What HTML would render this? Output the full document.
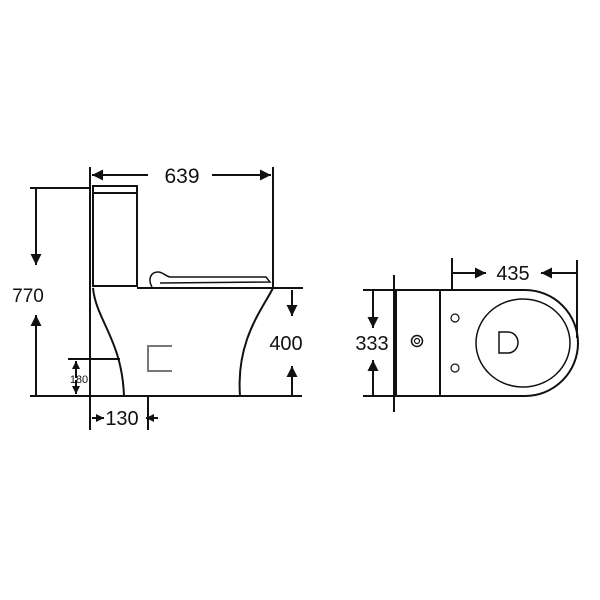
<!DOCTYPE html>
<html><head><style>html,body{margin:0;padding:0;background:#fff}svg{display:block}</style></head>
<body>
<svg width="600" height="600" viewBox="0 0 600 600" xmlns="http://www.w3.org/2000/svg" font-family="Liberation Sans, Arial, sans-serif">
<defs>
<marker id="a" viewBox="0 0 10 10" refX="10" refY="5" markerWidth="12" markerHeight="11" markerUnits="userSpaceOnUse" orient="auto"><path d="M0,0 L10,5 L0,10 z" fill="#111"/></marker>
<marker id="s" viewBox="0 0 10 10" refX="10" refY="5" markerWidth="8" markerHeight="8" markerUnits="userSpaceOnUse" orient="auto"><path d="M0,0 L10,5 L0,10 z" fill="#111"/></marker>
</defs>
<rect width="600" height="600" fill="#fff"/>
<g stroke="#111" stroke-width="2" fill="none">
<line x1="90" y1="167" x2="90" y2="430"/>
<line x1="273" y1="167" x2="273" y2="288"/>
<line x1="148" y1="175" x2="92" y2="175" marker-end="url(#a)"/>
<line x1="212" y1="175" x2="271" y2="175" marker-end="url(#a)"/>
<line x1="30" y1="188" x2="90" y2="188"/>
<line x1="36" y1="188" x2="36" y2="265" marker-end="url(#a)"/>
<line x1="36" y1="396" x2="36" y2="315" marker-end="url(#a)"/>
<line x1="30" y1="396" x2="302" y2="396"/>
<rect x="93" y="186" width="44" height="100"/>
<line x1="93" y1="193" x2="137" y2="193"/>
<line x1="137" y1="288" x2="303" y2="288"/>
<path d="M93,288 C96,320 122,340 124,396"/>
<path d="M273,288 C262,310 236,340 240,396"/>
<path d="M152,287 C148,280 150,272 158,272 C163,272 165,276 170,277 L266,277 L270,282 L160,283" stroke-width="1.5"/>
<line x1="68" y1="359" x2="120" y2="359"/>
<line x1="76" y1="378" x2="76" y2="361" marker-end="url(#s)"/>
<line x1="76" y1="380" x2="76" y2="394" marker-end="url(#s)"/>
<line x1="148" y1="396" x2="148" y2="430"/>
<line x1="92" y1="418" x2="104" y2="418" marker-end="url(#s)"/>
<line x1="158" y1="418" x2="146" y2="418" marker-end="url(#s)"/>
<line x1="292" y1="290" x2="292" y2="316" marker-end="url(#a)"/>
<line x1="292" y1="396" x2="292" y2="366" marker-end="url(#a)"/>
<path d="M172,346 L148,346 L148,371 L172,371" stroke="#777"/>
<line x1="394" y1="275" x2="394" y2="412"/>
<line x1="363" y1="290" x2="394" y2="290"/>
<line x1="363" y1="396" x2="394" y2="396"/>
<line x1="373" y1="290" x2="373" y2="328" marker-end="url(#a)"/>
<line x1="373" y1="396" x2="373" y2="360" marker-end="url(#a)"/>
<path d="M396,290 L525,290 A53,53 0 0 1 525,396 L396,396 Z"/>
<line x1="440" y1="290" x2="440" y2="396"/>
<ellipse cx="523" cy="343" rx="47" ry="44" stroke-width="1.5"/>
<path d="M499,332 L508,332 A10,10.5 0 0 1 508,353 L499,353 Z" stroke-width="1.5"/>
<circle cx="455" cy="318" r="4" stroke-width="1.2"/>
<circle cx="455" cy="368" r="4" stroke-width="1.2"/>
<circle cx="417" cy="341" r="5.5" stroke-width="1.5"/>
<circle cx="417" cy="341" r="2.5" stroke-width="1.2"/>
<line x1="452" y1="258" x2="452" y2="290"/>
<line x1="577" y1="260" x2="577" y2="338"/>
<line x1="452" y1="273" x2="486" y2="273" marker-end="url(#a)"/>
<line x1="577" y1="273" x2="541" y2="273" marker-end="url(#a)"/>
</g>
<g fill="#111" text-anchor="middle">
<text x="182" y="183" font-size="21">639</text>
<text x="28" y="302" font-size="19">770</text>
<text x="286" y="350" font-size="20">400</text>
<text x="79" y="383" font-size="11">180</text>
<text x="122" y="425" font-size="20">130</text>
<text x="372" y="350" font-size="20">333</text>
<text x="513" y="280" font-size="20">435</text>
</g>
</svg>
</body></html>
